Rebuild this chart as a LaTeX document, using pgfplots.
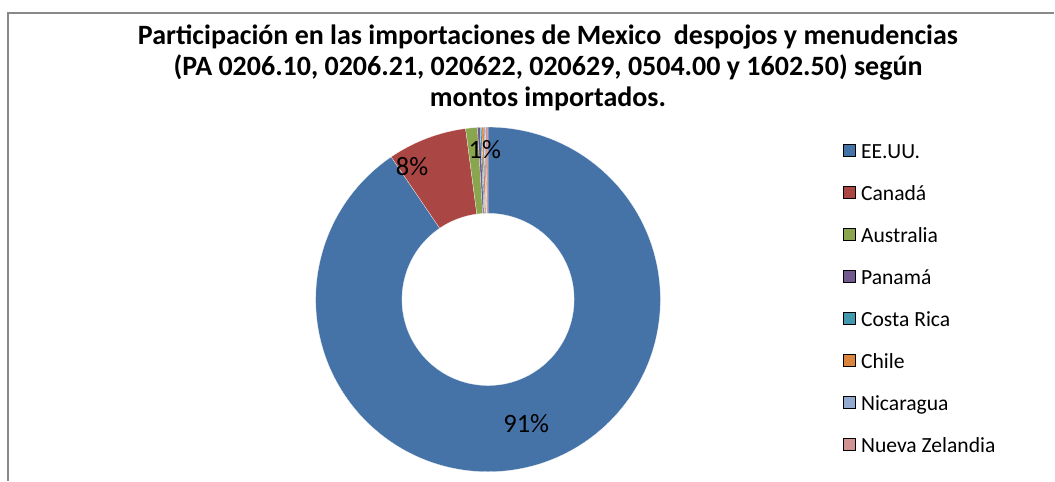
\documentclass[border=0pt]{standalone}
\usepackage{pgfplots}
\usepackage{pgfplotstable}
\pgfplotsset{compat=1.18}
\usepackage{fontspec}
\setmainfont{Carlito}
\definecolor{c0}{HTML}{4572A7}
\definecolor{c1}{HTML}{AA4643}
\definecolor{c2}{HTML}{89A54E}
\definecolor{c3}{HTML}{71588F}
\definecolor{c4}{HTML}{4198AF}
\definecolor{c5}{HTML}{DB843D}
\definecolor{c6}{HTML}{93A9CF}
\definecolor{c7}{HTML}{D19392}
\definecolor{framegray}{HTML}{898989}

\pgfplotstableread[col sep=comma]{
pais,valor
EE.UU.,90.50
Canadá,7.42
Australia,1.10
Panamá,0.25
Costa Rica,0.15
Chile,0.20
Nicaragua,0.15
Nueva Zelandia,0.23
}\datos

\begin{document}
\begin{tikzpicture}
\gdef\cum{0}%
\foreach \i in {0,...,7}{%
  \pgfplotstablegetelem{\i}{valor}\of\datos
  \pgfmathsetmacro\sa{90-3.6*\cum}%
  \pgfmathsetmacro\nc{\cum+\pgfplotsretval}%
  \pgfmathsetmacro\ea{90-3.6*\nc}%
  \expandafter\xdef\csname sa\i\endcsname{\sa}%
  \expandafter\xdef\csname ea\i\endcsname{\ea}%
  \xdef\cum{\nc}%
}%
\begin{axis}[
  x=1pt, y=1pt,
  xmin=0, xmax=1055, ymin=0, ymax=481,
  hide axis, clip=false,
  legend style={at={(axis cs:844,336.7)}, anchor=north west, draw=none, fill=none,
    inner sep=0pt, outer sep=0pt, font=\fontsize{21.6}{26}\selectfont,
    row sep=23.86pt, nodes={inner sep=0pt, text height=14pt, text depth=4pt},
    /tikz/every odd column/.append style={column sep=5.5pt}},
  legend cell align=left,
  legend image code/.code={\fill[#1] (0pt,-3pt) rectangle (12pt,9pt);},
]
\path (axis cs:0,0) rectangle (axis cs:1055,481);
\pgfplotsinvokeforeach{0,...,7}{
  \fill[c#1, draw=white, line width=0.2pt, shift={(axis cs:488.5,181.3)}]
    (\csname sa#1\endcsname:172.5pt)
    arc[start angle=\csname sa#1\endcsname, end angle=\csname ea#1\endcsname, radius=172.5pt]
    -- (\csname ea#1\endcsname:86.2pt)
    arc[start angle=\csname ea#1\endcsname, end angle=\csname sa#1\endcsname, radius=86.2pt]
    -- cycle;
}
\addlegendimage{fill=c0}\addlegendentry{EE.UU.}
\addlegendimage{fill=c1}\addlegendentry{Canadá}
\addlegendimage{fill=c2}\addlegendentry{Australia}
\addlegendimage{fill=c3}\addlegendentry{Panamá}
\addlegendimage{fill=c4}\addlegendentry{Costa Rica}
\addlegendimage{fill=c5}\addlegendentry{Chile}
\addlegendimage{fill=c6}\addlegendentry{Nicaragua}
\addlegendimage{fill=c7}\addlegendentry{Nueva Zelandia}

\draw[framegray, line width=2pt] (axis cs:8.3,0) -- (axis cs:8.3,468) -- (axis cs:1055,468);

\node[align=center, font=\bfseries\fontsize{28}{31}\selectfont] at (axis cs:548.5,413)
  {Participación en las importaciones de Mexico\ \ despojos y menudencias\\
   (PA 0206.10, 0206.21, 020622, 020629, 0504.00 y 1602.50) según\\
   montos importados.};

\node[font=\fontsize{26.5}{30}\selectfont] at (axis cs:526.7,57) {91\%};
\node[font=\fontsize{26.5}{30}\selectfont] at (axis cs:412.5,314.3) {8\%};
\node[font=\fontsize{26.5}{30}\selectfont] at (axis cs:485.3,331) {1\%};
\end{axis}
\end{tikzpicture}
\end{document}
